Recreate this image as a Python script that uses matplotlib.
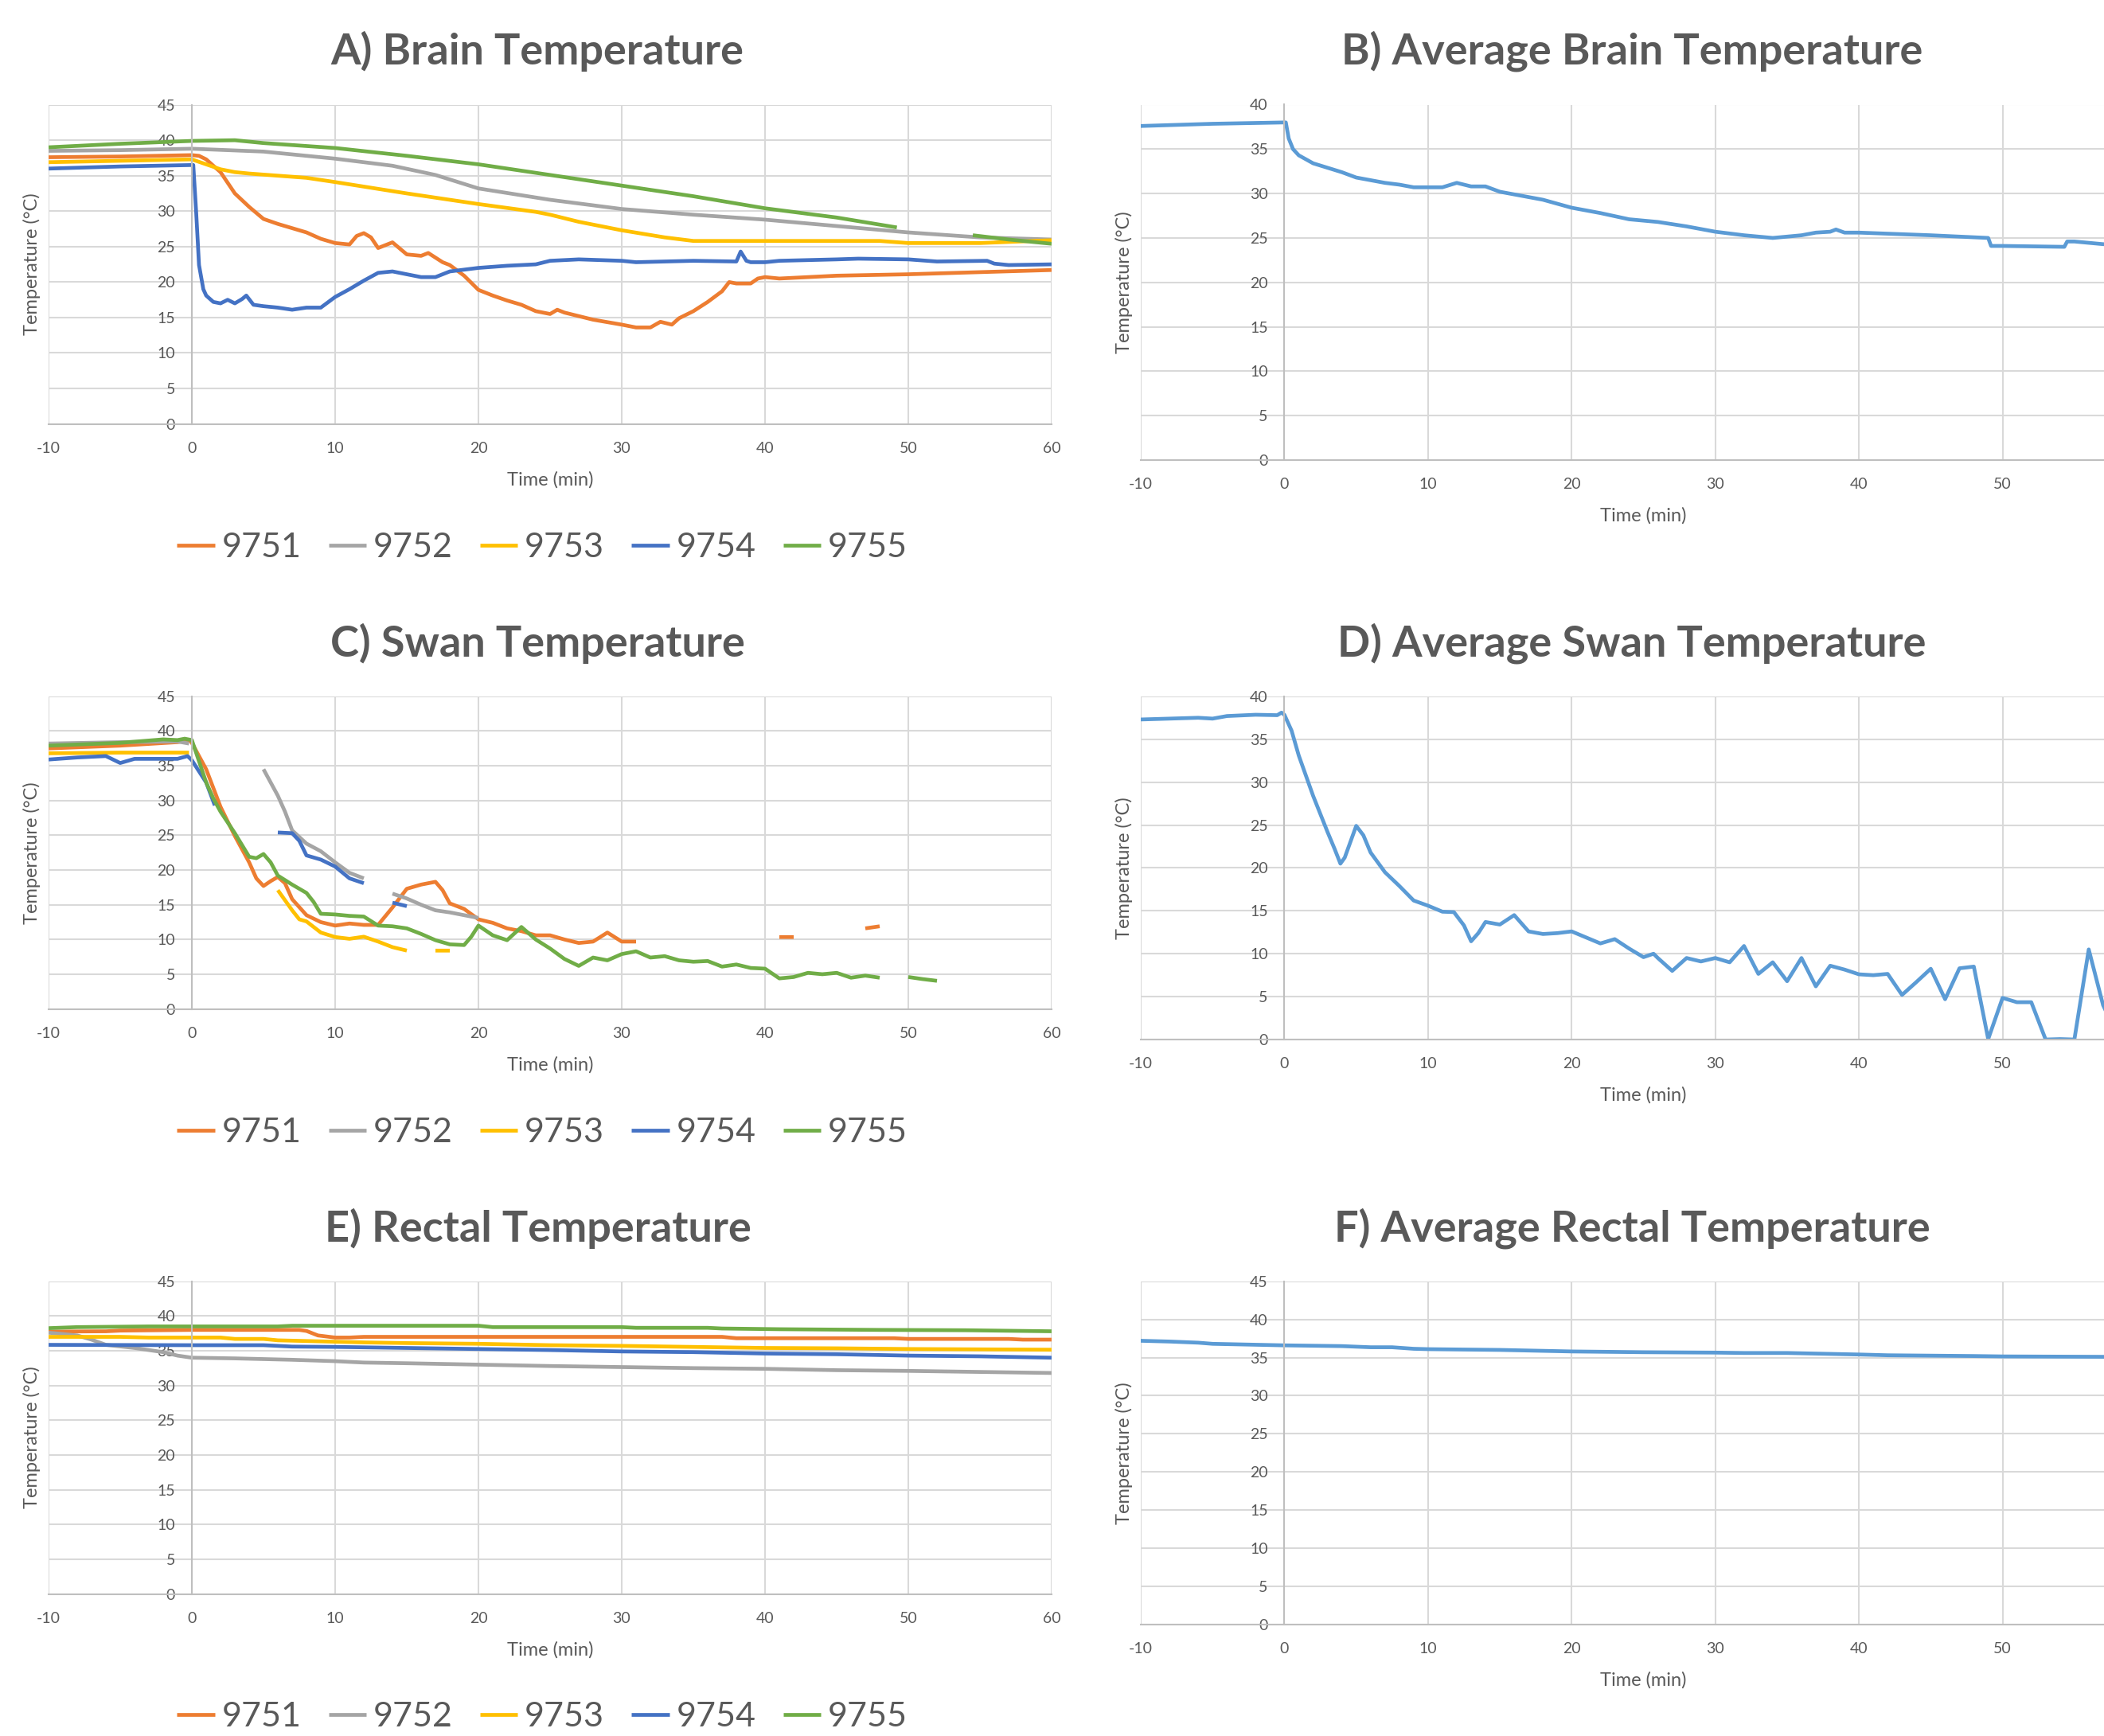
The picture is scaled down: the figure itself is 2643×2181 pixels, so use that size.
import numpy as np
import matplotlib
matplotlib.use("Agg")
import matplotlib.pyplot as plt

plt.rcParams['font.family'] = ['Lato', 'DejaVu Sans']

nan = np.nan
ids = ["9751", "9752", "9753", "9754", "9755"]
colors = ["#ED7D31", "#A5A5A5", "#FFC000", "#4472C4", "#70AD47"]
avg_color = "#5B9BD5"
txt = "#595959"

# ---- A) brain ----
brain_t_9751 = [-10, -5, 0, 0.5, 1, 2, 3, 4, 5, 6, 7, 8, 9, 10, 11, 11.5, 12, 12.5, 13, 14, 15, 16, 16.5, 17.5, 18,
                19, 20, 21, 22, 23, 24, 25, 25.5, 26, 28, 30, 31, 32, 32.7, 33.5, 34, 35, 36, 37, 37.5, 38, 39, 39.5,
                40, 41, 45, 50, 55, 60]
brain_9751 = [37.6, 37.7, 37.9, 37.8, 37.3, 35.5, 32.5, 30.6, 28.9, 28.2, 27.6, 27.0, 26.1, 25.5, 25.3, 26.5, 26.9,
              26.3, 24.8, 25.6, 23.9, 23.7, 24.1, 22.8, 22.4, 20.9, 18.9, 18.1, 17.4, 16.8, 15.9, 15.5, 16.1, 15.7,
              14.7, 14.0, 13.6, 13.6, 14.4, 14.0, 14.9, 15.9, 17.2, 18.7, 20.0, 19.8, 19.8, 20.5, 20.7, 20.5, 20.9,
              21.1, 21.4, 21.7]
brain_t_9752 = [-10, -5, 0, 5, 10, 14, 17, 20, 25, 30, 35, 40, 45, 50, 55, 60]
brain_9752 = [38.5, 38.6, 38.8, 38.4, 37.4, 36.4, 35.1, 33.2, 31.6, 30.3, 29.5, 28.8, 27.9, 27.0, 26.3, 26.0]
brain_t_9753 = [-10, 0, 1, 2, 3, 4, 6, 8, 10, 15, 20, 24, 25, 27, 30, 33, 35, 40, 48, 50, 55, 60]
brain_9753 = [36.9, 37.3, 36.6, 35.9, 35.5, 35.3, 35.0, 34.7, 34.1, 32.5, 31.0, 29.9, 29.5, 28.5, 27.3, 26.3, 25.8,
              25.8, 25.8, 25.5, 25.5, 25.9]
brain_t_9754 = [-10, -5, 0, 0.1, 0.3, 0.5, 0.8, 1, 1.5, 2, 2.5, 3, 3.5, 3.8, 4.3, 5, 6, 7, 8, 9, 10, 11, 12, 13, 14,
                15, 16, 17, 18, 20, 22, 24, 25, 27, 30, 31, 35, 38, 38.3, 38.7, 39, 40, 41, 45, 46.5, 50, 52, 55.5,
                56, 57, 60]
brain_9754 = [36.0, 36.3, 36.5, 36.5, 29.9, 22.4, 19.0, 18.1, 17.2, 17.0, 17.5, 17.0, 17.6, 18.1, 16.8, 16.6, 16.4,
              16.1, 16.4, 16.4, 17.9, 19.0, 20.2, 21.3, 21.5, 21.1, 20.7, 20.7, 21.5, 22.0, 22.3, 22.5, 23.0, 23.2,
              23.0, 22.8, 23.0, 22.9, 24.3, 23.0, 22.8, 22.8, 23.0, 23.2, 23.3, 23.2, 22.9, 23.0, 22.6, 22.4, 22.5]
brain_t_9755 = [-10, -5, 0, 3, 5, 10, 15, 20, 25, 30, 35, 40, 45, 49.2, 51, 54.5, 57, 60]
brain_9755 = [39.0, 39.5, 39.9, 40.0, 39.6, 38.9, 37.8, 36.6, 35.1, 33.6, 32.1, 30.4, 29.1, 27.7, nan, 26.6, 26.0,
              25.4]

# ---- B) average brain ----
avg_brain_t = [-10, -5, 0, 0.1, 0.3, 0.6, 1, 2, 3, 4, 5, 6, 7, 8, 9, 11, 12, 13, 14, 15, 16, 18, 20, 22, 24, 26, 28,
               30, 32, 34, 36, 37, 38, 38.4, 39, 40, 45, 49, 49.2, 50, 54.3, 54.5, 55, 57, 60]
avg_brain = [37.6, 37.85, 38.0, 38.0, 36.2, 35.0, 34.3, 33.4, 32.9, 32.4, 31.8, 31.5, 31.2, 31.0, 30.7, 30.7, 31.2,
             30.8, 30.8, 30.2, 29.9, 29.3, 28.4, 27.8, 27.1, 26.8, 26.3, 25.7, 25.3, 25.0, 25.3, 25.6, 25.7, 25.95,
             25.6, 25.6, 25.3, 25.0, 24.1, 24.1, 24.0, 24.6, 24.6, 24.3, 24.1]

# ---- C) swan ----
swan_t_9751 = [-10, -5, -1, -0.2, 0, 1, 2, 3, 4, 4.5, 5, 5.5, 6, 6.5, 7, 8, 9, 10, 11, 12, 13, 14, 15, 16, 17, 17.5,
               18, 19, 20, 21, 22, 23, 24, 25, 26, 27, 28, 29, 30, 31, 36, 41, 42, 44.5, 47, 48]
swan_9751 = [37.5, 37.9, 38.4, 38.7, 38.3, 34.5, 29.1, 24.9, 21.1, 18.8, 17.7, 18.4, 19.0, 18.1, 15.8, 13.5, 12.5,
             12.0, 12.3, 12.1, 12.1, 14.6, 17.3, 17.9, 18.3, 17.1, 15.2, 14.4, 12.9, 12.4, 11.6, 11.2, 10.6, 10.6,
             10.0, 9.5, 9.7, 11.0, 9.7, 9.7, nan, 10.35, 10.35, nan, 11.6, 11.9]
swan_t_9752 = [-10, -5, -1, -0.2, 2, 5, 6, 6.5, 7, 8, 9, 10, 11, 12, 13, 14, 15, 16, 17, 18, 19, 20]
swan_9752 = [38.2, 38.4, 38.5, 38.2, nan, 34.5, 30.7, 28.4, 25.7, 23.8, 22.7, 21.1, 19.6, 18.8, nan, 16.6, 15.9,
             15.0, 14.2, 13.9, 13.5, 13.1]
swan_t_9753 = [-10, -5, -0.2, 3, 6, 7, 7.5, 8, 9, 10, 11, 12, 13, 14, 15, 16, 17, 18]
swan_9753 = [36.8, 36.9, 36.9, nan, 17.1, 14.2, 12.9, 12.6, 11.0, 10.35, 10.1, 10.4, 9.7, 8.9, 8.4, nan, 8.4, 8.4]
swan_t_9754 = [-10, -8, -6, -5, -4, -1, -0.3, 0, 1, 1.6, 4, 6, 7, 7.5, 8, 9, 10, 11, 12, 13, 14, 15]
swan_9754 = [35.9, 36.2, 36.4, 35.4, 36.0, 36.0, 36.4, 35.8, 32.6, 29.3, nan, 25.4, 25.3, 24.2, 22.1, 21.5, 20.5,
             18.8, 18.1, nan, 15.3, 14.8]
swan_t_9755 = [-10, -5, -2, -1, -0.5, 0, 1, 1.5, 2, 3, 4, 4.5, 5, 5.5, 6, 7, 8, 8.5, 9, 10, 11, 12, 13, 14, 15, 16,
               17, 18, 19, 19.5, 20, 21, 22, 23, 24, 25, 26, 27, 28, 29, 30, 31, 32, 33, 34, 35, 36, 37, 38, 39, 40,
               41, 42, 43, 44, 45, 46, 47, 48, 49, 50, 51, 52]
swan_9755 = [37.9, 38.3, 38.8, 38.7, 38.9, 38.7, 32.6, 30.3, 28.4, 25.3, 21.9, 21.7, 22.3, 21.1, 19.2, 17.9, 16.7,
             15.4, 13.7, 13.6, 13.4, 13.3, 12.0, 11.9, 11.6, 10.8, 9.9, 9.3, 9.2, 10.4, 12.0, 10.6, 9.9, 11.8, 10.0,
             8.7, 7.2, 6.2, 7.4, 7.0, 7.9, 8.3, 7.4, 7.6, 7.0, 6.8, 6.9, 6.1, 6.4, 5.9, 5.8, 4.4, 4.6, 5.2, 5.0,
             5.2, 4.5, 4.8, 4.5, nan, 4.6, 4.3, 4.05]

# ---- D) average swan ----
avg_swan_t = [-10, -6, -5, -4, -2, -0.5, -0.2, 0, 0.5, 1, 2, 3, 3.5, 3.9, 4.2, 5, 5.5, 6, 7, 8, 9, 10, 11, 11.8,
              12.5, 13, 13.5, 14, 15, 16, 17, 18, 19, 20, 21, 22, 23, 24, 25, 25.7, 26, 27, 28, 29, 30, 31, 32, 33,
              34, 35, 36, 37, 38, 39, 40, 41, 42, 43, 44, 45, 46, 47, 48, 49, 50, 51, 52, 53, 54, 55, 56, 57, 58]
avg_swan = [37.3, 37.5, 37.4, 37.7, 37.85, 37.8, 38.1, 37.85, 36.0, 33.1, 28.4, 24.2, 22.2, 20.5, 21.2, 24.9, 23.8,
            21.8, 19.5, 17.9, 16.2, 15.6, 14.9, 14.85, 13.3, 11.45, 12.4, 13.7, 13.4, 14.5, 12.6, 12.3, 12.4, 12.6,
            11.9, 11.2, 11.7, 10.6, 9.6, 10.0, 9.5, 8.0, 9.5, 9.1, 9.5, 9.0, 10.9, 7.65, 9.0, 6.8, 9.5, 6.2, 8.6,
            8.15, 7.6, 7.5, 7.65, 5.2, 6.7, 8.25, 4.7, 8.3, 8.5, 0.05, 4.85, 4.35, 4.35, 0.0, 0.05, 0.0, 10.5, 4.0,
            0.5]

# ---- E) rectal ----
rect_t_9751 = [-10, -6, -5, 0, 7.5, 8, 8.8, 10, 11, 12, 37, 38, 49, 50, 57, 58, 60]
rect_9751 = [37.75, 37.8, 37.9, 38.0, 38.0, 37.85, 37.2, 36.9, 36.9, 37.0, 37.0, 36.8, 36.8, 36.7, 36.7, 36.6, 36.6]
rect_t_9752 = [-10, -8, -7, -6, -4, -2, -1, 0, 3, 7, 10, 12, 15, 20, 25, 30, 35, 40, 45, 50, 55, 60]
rect_9752 = [37.6, 37.2, 36.6, 35.85, 35.4, 34.8, 34.3, 34.0, 33.9, 33.7, 33.5, 33.3, 33.2, 33.0, 32.8, 32.65, 32.5,
             32.4, 32.2, 32.1, 31.95, 31.8]
rect_t_9753 = [-10, -5, -3, 2, 3, 5, 6, 9, 12, 15, 20, 25, 30, 35, 40, 45, 50, 55, 60]
rect_9753 = [37.0, 37.0, 36.9, 36.9, 36.7, 36.7, 36.5, 36.35, 36.2, 36.1, 36.0, 35.8, 35.7, 35.55, 35.4, 35.35,
             35.25, 35.2, 35.15]
rect_t_9754 = [-10, 0, 5, 7, 10, 15, 20, 25, 30, 35, 40, 45, 50, 55, 60]
rect_9754 = [35.85, 35.8, 35.8, 35.6, 35.55, 35.4, 35.25, 35.1, 34.9, 34.8, 34.6, 34.5, 34.3, 34.2, 34.0]
rect_t_9755 = [-10, -8, -3, 6, 7, 20, 21, 30, 31, 36, 37, 41, 48, 54, 60]
rect_9755 = [38.25, 38.4, 38.5, 38.5, 38.6, 38.6, 38.4, 38.4, 38.3, 38.3, 38.2, 38.1, 38.0, 37.95, 37.8]

# ---- F) average rectal ----
avg_rect_t = [-10, -8, -6, -5, 0, 4, 6, 7.5, 9, 10, 15, 20, 25, 30, 32, 35, 40, 42, 48, 50, 57, 60]
avg_rect = [37.2, 37.1, 36.95, 36.8, 36.6, 36.5, 36.35, 36.35, 36.15, 36.1, 36.0, 35.8, 35.7, 35.65, 35.6, 35.6,
            35.4, 35.3, 35.2, 35.15, 35.1, 35.05]

x_ticks = [-10, 0, 10, 20, 30, 40, 50, 60]

W, H = 2643, 2181
fig = plt.figure(figsize=(W / 100, H / 100), dpi=100)


def style_axes(ax, ymax, cut_right=False):
    ax.set_xlim(-10, 60)
    ax.set_ylim(0, ymax)
    ax.set_xticks(x_ticks)
    # right-hand charts run past the page edge, so their last label is not seen
    ax.set_xticklabels([str(v) if not (cut_right and v == 60) else "" for v in x_ticks])
    ax.set_yticks(range(0, ymax + 1, 5))
    ax.grid(True, color="#D9D9D9", lw=1.5, zorder=0)
    ax.set_axisbelow(True)
    for s in ["top", "right"]:
        ax.spines[s].set_visible(False)
    ax.spines["left"].set_position(("data", 0))
    ax.spines["left"].set_color("#BFBFBF")
    ax.spines["bottom"].set_color("#BFBFBF")
    ax.spines["left"].set_linewidth(1.5)
    ax.spines["bottom"].set_linewidth(1.5)
    ax.tick_params(axis="both", length=0, labelsize=14, labelcolor=txt)
    ax.tick_params(axis="y", pad=15)
    ax.tick_params(axis="x", pad=16)
    bb = ax.get_position()
    wpx, hpx = bb.width * W, bb.height * H
    ax.set_xlabel("Time (min)", fontsize=17, color=txt)
    ax.xaxis.set_label_coords(0.5, -70 / hpx)
    ax.xaxis.label.set_va("center")
    ax.set_ylabel("Temperature (°C)", fontsize=17, color=txt)
    ax.yaxis.set_label_coords(-21 / wpx, 0.5)
    ax.yaxis.label.set_va("center")


lw = 3.4
left_x, right_x = 61 / W, 1433 / W
left_w, right_w = 1260 / W, 1263 / W

# A
axA = fig.add_axes([left_x, 1 - 532.6 / H, left_w, 401 / H])
for tt, yy, c, lab in zip([brain_t_9751, brain_t_9752, brain_t_9753, brain_t_9754, brain_t_9755],
                          [brain_9751, brain_9752, brain_9753, brain_9754, brain_9755], colors, ids):
    axA.plot(tt, yy, color=c, lw=lw, label=lab, solid_capstyle="butt")
style_axes(axA, 45)

# B
axB = fig.add_axes([right_x, 1 - 578 / H, right_w, 446.5 / H])
axB.plot(avg_brain_t, avg_brain, color=avg_color, lw=lw)
style_axes(axB, 40, cut_right=True)

# C
axC = fig.add_axes([left_x, 1 - 1267.6 / H, left_w, 392.8 / H])
for tt, yy, c, lab in zip([swan_t_9751, swan_t_9752, swan_t_9753, swan_t_9754, swan_t_9755],
                          [swan_9751, swan_9752, swan_9753, swan_9754, swan_9755], colors, ids):
    axC.plot(tt, yy, color=c, lw=lw, label=lab, solid_capstyle="butt")
style_axes(axC, 45)

# D
axD = fig.add_axes([right_x, 1 - 1306 / H, right_w, 431.2 / H])
axD.plot(avg_swan_t, avg_swan, color=avg_color, lw=lw)
style_axes(axD, 40, cut_right=True)

# E
axE = fig.add_axes([left_x, 1 - 2002.5 / H, left_w, 392.8 / H])
for tt, yy, c, lab in zip([rect_t_9751, rect_t_9752, rect_t_9753, rect_t_9754, rect_t_9755],
                          [rect_9751, rect_9752, rect_9753, rect_9754, rect_9755], colors, ids):
    axE.plot(tt, yy, color=c, lw=lw, label=lab, solid_capstyle="butt")
style_axes(axE, 45)

# F
axF = fig.add_axes([right_x, 1 - 2041 / H, right_w, 431.3 / H])
axF.plot(avg_rect_t, avg_rect, color=avg_color, lw=lw)
style_axes(axF, 45, cut_right=True)

titles = [("A) Brain Temperature", 675, 64), ("B) Average Brain Temperature", 2050, 64),
          ("C) Swan Temperature", 675, 808), ("D) Average Swan Temperature", 2050, 808),
          ("E) Rectal Temperature", 676, 1543), ("F) Average Rectal Temperature", 2050, 1543)]
for s, x, y in titles:
    fig.text(x / W, 1 - y / H, s, fontsize=39, fontweight="bold", color=txt, ha="center", va="center")

for ax, y in [(axA, 688), (axC, 1423), (axE, 2157)]:
    h, l = ax.get_legend_handles_labels()
    fig.legend(h, l, loc="center", bbox_to_anchor=(681 / W, 1 - y / H), ncol=5, frameon=False,
               fontsize=31, labelcolor=txt, handlelength=1.1, handletextpad=0.2, columnspacing=0.8)

fig.savefig("out.png", dpi=100)
